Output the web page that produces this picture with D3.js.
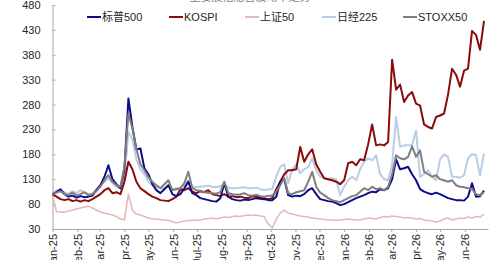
<!DOCTYPE html>
<html><head><meta charset="utf-8">
<script src="https://cdn.jsdelivr.net/npm/d3@7"></script>
<style>
body{margin:0;background:#fff}
svg{display:block}
text{font-family:"Liberation Sans",Arial,"Noto Sans CJK SC",sans-serif}
</style>
</head><body>
<svg id="c" width="500" height="260"></svg>
<script>
const dates = [
"2025-01-01","2025-01-06","2025-01-11","2025-01-16","2025-01-21","2025-01-26","2025-01-31","2025-02-05","2025-02-10","2025-02-15",
"2025-02-20","2025-02-25","2025-03-02","2025-03-07","2025-03-12","2025-03-17","2025-03-22","2025-03-27","2025-04-01","2025-04-06",
"2025-04-11","2025-04-16","2025-04-21","2025-04-26","2025-05-01","2025-05-06","2025-05-11","2025-05-16","2025-05-21","2025-05-26",
"2025-05-31","2025-06-05","2025-06-10","2025-06-15","2025-06-20","2025-06-25","2025-06-30","2025-07-05","2025-07-10","2025-07-15",
"2025-07-20","2025-07-25","2025-07-30","2025-08-04","2025-08-09","2025-08-14","2025-08-19","2025-08-24","2025-08-29","2025-09-03",
"2025-09-08","2025-09-13","2025-09-18","2025-09-23","2025-09-28","2025-10-03","2025-10-08","2025-10-13","2025-10-18","2025-10-23",
"2025-10-28","2025-11-02","2025-11-07","2025-11-12","2025-11-17","2025-11-22","2025-11-27","2025-12-02","2025-12-07","2025-12-12",
"2025-12-17","2025-12-22","2025-12-27","2026-01-01","2026-01-06","2026-01-11","2026-01-16","2026-01-21","2026-01-26","2026-01-31",
"2026-02-05","2026-02-10","2026-02-15","2026-02-20","2026-02-25","2026-03-02","2026-03-07","2026-03-12","2026-03-17","2026-03-22",
"2026-03-27","2026-04-01","2026-04-06","2026-04-11","2026-04-16","2026-04-21","2026-04-26","2026-05-01","2026-05-06","2026-05-11",
"2026-05-16","2026-05-21","2026-05-26","2026-05-31","2026-06-05","2026-06-10","2026-06-15","2026-06-20","2026-06-25"];

const sp500 = [100,104,110,100,95,97,93,96,94,95,
97,108,118,135,158,130,120,112,150,292,
235,190,192,152,140,120,108,102,110,118,
100,96,100,112,125,102,98,92,90,88,
86,85,92,122,95,90,88,87,89,88,
90,92,91,90,88,88,95,125,130,98,
95,97,96,100,108,112,100,90,88,86,
85,82,78,80,84,88,92,95,98,102,
105,104,110,108,112,130,170,150,152,155,
140,128,110,105,102,100,103,100,96,92,
90,88,88,87,95,122,95,96,107];

const kospi = [100,95,90,88,90,86,88,85,88,86,
90,95,100,108,112,102,104,100,125,165,
150,125,112,106,100,95,92,88,87,86,
90,95,110,108,112,105,102,106,104,108,
100,98,96,100,95,96,94,95,93,92,
96,95,94,92,90,92,110,125,140,148,
148,150,195,165,180,190,160,145,132,130,
128,125,120,128,162,165,158,170,168,200,
240,198,200,198,205,370,310,320,285,298,
305,282,278,240,235,232,255,258,262,300,
352,340,316,348,352,428,420,390,448];

const sse50 = [98,65,64,64,66,68,70,72,74,76,
72,68,64,62,60,58,55,50,48,100,
68,60,58,55,52,50,50,49,48,47,
45,42,44,46,47,48,47,48,50,51,
52,50,52,54,53,55,56,55,57,58,
57,58,56,55,40,32,50,62,68,62,
60,58,56,55,54,52,51,50,49,48,
48,47,48,49,50,49,48,48,50,52,
51,50,53,55,54,56,55,54,52,53,
52,50,51,48,47,46,44,46,50,52,
48,50,52,51,54,52,55,54,60];

const nikkei = [100,108,105,104,100,106,102,108,103,100,
102,110,118,125,132,122,115,112,135,225,
210,170,150,140,125,118,115,112,112,118,
110,112,113,118,128,115,114,115,116,117,
115,114,116,120,113,112,112,113,114,112,
112,113,110,108,110,110,135,155,160,122,
150,160,142,150,155,172,148,135,132,130,
132,130,98,115,128,135,128,150,165,172,
168,178,140,130,128,160,255,195,198,198,
198,228,135,140,148,135,128,170,180,175,
135,135,133,138,172,180,178,138,182];

const stoxx = [100,103,106,100,98,103,97,100,104,98,
100,106,115,128,138,125,118,115,155,262,
232,190,160,148,134,125,118,112,120,128,
108,110,112,122,145,112,108,107,104,103,
102,101,104,125,102,100,99,100,102,98,
97,99,96,95,97,97,105,118,132,102,
100,104,106,108,125,145,115,103,98,92,
88,86,84,88,92,96,98,105,112,108,
115,110,112,108,115,140,178,172,170,175,
196,175,188,145,140,135,138,130,128,125,
128,118,115,114,112,110,100,98,104];

const seriesNames = ["标普500","KOSPI","上证50","日经225","STOXX50"];
const seriesColors = ["#0c0c8a","#8b0a0a","#e6b9b8","#b9cde5","#7f7f7f"];
const yTicks = [30,80,130,180,230,280,330,380,430,480];
const titleText = "主要股指隐含波动率走势";

const svg = d3.select("#c");
const parse = d3.utcParse("%Y-%m-%d");
const xDates = dates.map(parse);

const x = d3.scaleUtc().domain([parse("2025-01-01"), parse("2026-06-30")]).range([52.5, 488]);
const y = d3.scaleLinear().domain([30, 480]).range([229, 5]);

// title (cut at top edge)
svg.append("text").attr("x", 250).attr("y", 0.5).attr("text-anchor", "middle")
  .attr("font-size", 11).attr("fill", "#7f7f7f").text(titleText);

// axes
const yAxis = d3.axisLeft(y).tickValues(yTicks).tickSizeInner(-3).tickSizeOuter(0).tickPadding(12);
const gy = svg.append("g").attr("transform", "translate(52.5,0)").call(yAxis);
gy.selectAll("text").attr("font-size", 11).attr("fill", "#262626")
  .style("font-family", '"Liberation Sans",Arial,sans-serif');
gy.select(".domain").attr("stroke", "#a6a6a6");
gy.selectAll(".tick line").attr("stroke", "#a6a6a6");

const xAxis = d3.axisBottom(x).ticks(d3.utcMonth.every(1)).tickFormat(d3.utcFormat("%b-%y"))
  .tickSizeInner(3).tickSizeOuter(0);
const gx = svg.append("g").attr("transform", "translate(0,229)").call(xAxis);
gx.select(".domain").attr("stroke", "#a6a6a6");
gx.selectAll(".tick line").attr("stroke", "#a6a6a6");
gx.selectAll("text").attr("font-size", 11).attr("fill", "#262626")
  .style("font-family", '"Liberation Sans",Arial,sans-serif')
  .attr("transform", "rotate(-90)").attr("text-anchor", "end")
  .attr("x", -5).attr("y", 0).attr("dy", "0.35em");

// lines
const allSeries = [sp500, kospi, sse50, nikkei, stoxx];
const drawOrder = [3, 2, 1, 0, 4];
const line = d3.line().x((d, i) => x(xDates[i])).y(d => y(d));
drawOrder.forEach(k => {
  svg.append("path").datum(allSeries[k])
    .attr("fill", "none")
    .attr("stroke", seriesColors[k])
    .attr("stroke-width", k === 2 ? 1.6 : 2)
    .attr("stroke-linejoin", "round")
    .attr("d", line);
});

// legend
const legX = [87, 169, 245, 322, 403];
const lg = svg.append("g");
seriesNames.forEach((n, k) => {
  lg.append("line").attr("x1", legX[k]).attr("x2", legX[k] + 14)
    .attr("y1", 17).attr("y2", 17)
    .attr("stroke", seriesColors[k]).attr("stroke-width", 2);
  lg.append("text").attr("x", legX[k] + 15).attr("y", 17).attr("dy", "0.35em")
    .attr("font-size", 11).attr("fill", "#262626").text(n);
});
</script>
</body></html>
